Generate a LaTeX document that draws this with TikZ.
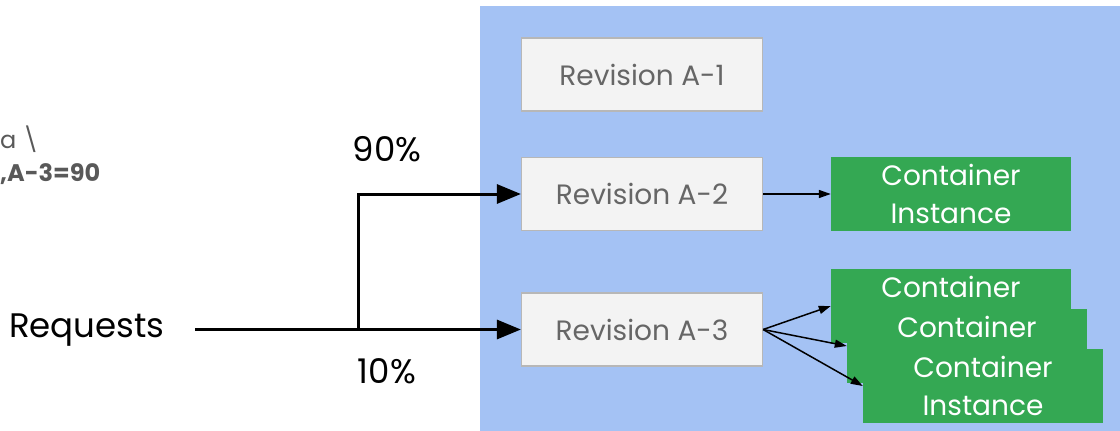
\documentclass[tikz,border=0pt]{standalone}
\usepackage{fontspec}
\setmainfont{Poppins}
\usetikzlibrary{arrows.meta}
\definecolor{panelblue}{HTML}{A4C2F4}
\definecolor{revfill}{HTML}{F3F3F3}
\definecolor{revline}{HTML}{B7B7B7}
\definecolor{revtext}{HTML}{666666}
\definecolor{boxgreen}{HTML}{34A853}
\definecolor{cmdgray}{HTML}{595959}
\tikzset{
  revbox/.style={draw=revline, line width=1.2pt, fill=revfill, minimum width=241pt,
    minimum height=73pt, inner sep=0pt, text=revtext, font=\fontsize{28}{34}\selectfont},
  ctrbox/.style={fill=boxgreen, minimum width=240pt, minimum height=74pt, inner sep=0pt,
    align=center, text=white, font=\fontsize{28}{38}\selectfont},
  bigtext/.style={inner sep=0pt, anchor=base west, font=\fontsize{34}{40}\selectfont},
  pcttext/.style={inner sep=0pt, anchor=base, font=\fontsize{34}{40}\selectfont},
  cmdtext/.style={inner sep=0pt, anchor=base west, text=cmdgray, font=\fontsize{24}{28}\selectfont},
  route/.style={line width=3pt, -{Triangle[length=24pt,width=19pt]}},
  fanout/.style={line width=1.5pt, -{Triangle[length=12pt,width=8pt]}}
}
\begin{document}
\begin{tikzpicture}[x=1pt,y=-1pt]
  \useasboundingbox (0,0) rectangle (1120,431);
  % service panel
  \fill[panelblue] (480,6) rectangle (1120,431);

  % tail of the deploy command, running in from the left edge
  \node[cmdtext] (cmd1) at (0,148) {a \textbackslash};
  \node[cmdtext, font=\bfseries\fontsize{24}{28}\selectfont] (cmd2) at (0,181) {,A-3=90};

  % revisions
  \node[revbox] (r1) at (642,74.5) {Revision A-1};
  \node[revbox] (r2) at (642,194) {Revision A-2};
  \node[revbox] (r3) at (642,329.5) {Revision A-3};

  % container instances
  \node[ctrbox] (c2) at (951,194) {Container\\Instance};
  \node[ctrbox] (s1) at (951,306) {Container\\\phantom{Instance}};
  \node[ctrbox] (s2) at (967,346) {Container\\\phantom{Instance}};
  \node[ctrbox] (s3) at (983,386) {Container\\Instance};

  % incoming requests and traffic split
  \node[bigtext] (req) at (9,337) {Requests};
  \coordinate (start) at (195,329.5);
  \coordinate (split) at (358,329.5);
  \node[pcttext] (p90) at (387,161) {90\%};
  \node[pcttext] (p10) at (387,383) {10\%};

  \draw[route] (start) -- (split) -- (r3.west);
  \draw[route] (split) |- (r2.west);

  \draw[fanout] (r2.east) -- (c2.west);
  \draw[fanout] (r3.east) -- (s1.west);
  \draw[fanout] (r3.east) -- (s2.west);
  \draw[fanout] (r3.east) -- (s3.west);
\end{tikzpicture}
\end{document}
